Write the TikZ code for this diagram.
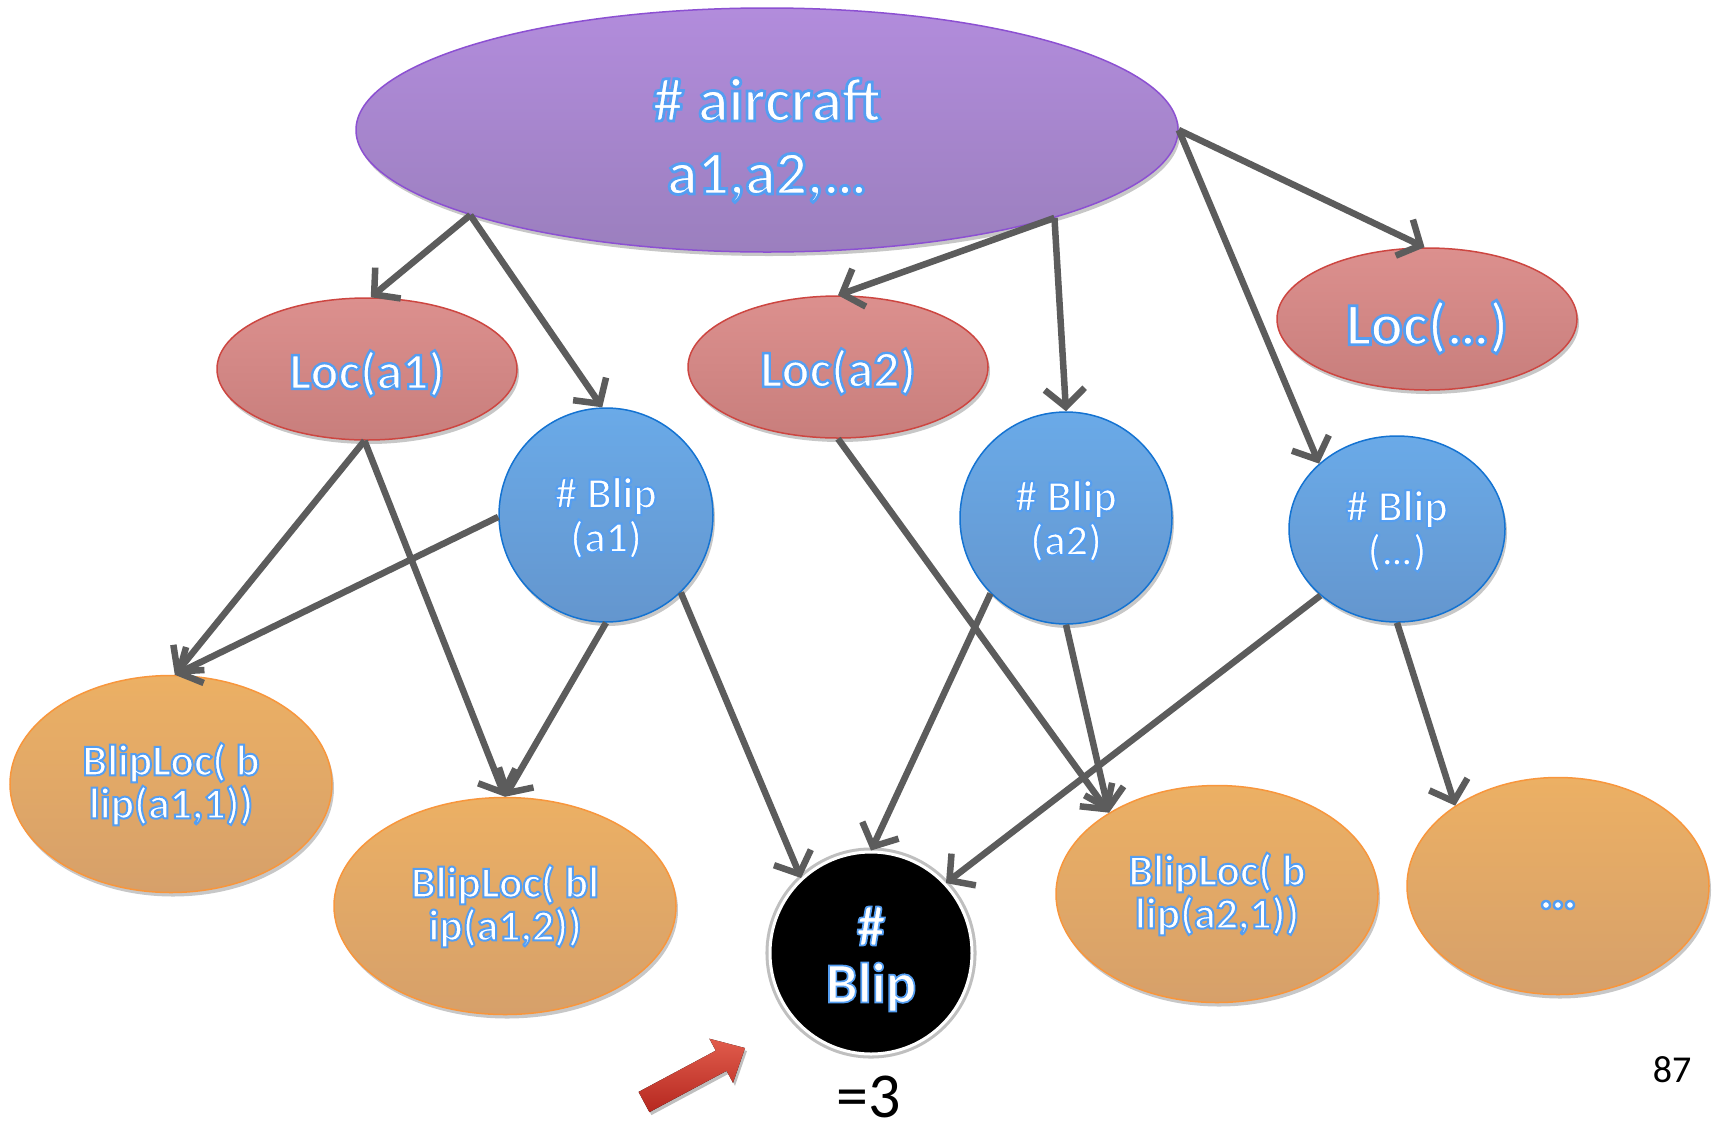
\documentclass[tikz,border=0pt]{standalone}
\usepackage{fontspec}
\setmainfont{Carlito}
\newfontfamily\gf[FakeBold=4.5]{Carlito Bold}
\newfontfamily\gfb[FakeBold=3]{Carlito Bold}
\usetikzlibrary{shapes.geometric,arrows.meta,shadows}

\definecolor{airtop}{RGB}{178,140,220}
\definecolor{airbot}{RGB}{155,127,190}
\definecolor{airborder}{RGB}{140,80,210}
\definecolor{loctop}{RGB}{220,144,142}
\definecolor{locbot}{RGB}{200,126,124}
\definecolor{locborder}{RGB}{205,70,65}
\definecolor{bluetop}{RGB}{106,170,232}
\definecolor{bluebot}{RGB}{100,150,206}
\definecolor{blueborder}{RGB}{20,115,210}
\definecolor{orgtop}{RGB}{236,176,100}
\definecolor{orgbot}{RGB}{214,160,106}
\definecolor{orgborder}{RGB}{248,150,60}
\definecolor{edgegray}{RGB}{92,92,92}

% white fill, blue stroke (text rendering mode 2 comes from FakeBold)
\newcommand\gl[1]{\special{pdf:bc [1 1 1] [0.33 0.62 0.95]}#1\special{pdf:ec}}

\tikzset{
  every node/.style={inner sep=0pt},
  shd/.style={drop shadow={shadow xshift=2pt, shadow yshift=-4pt, opacity=0.22, fill=black}},
  airst/.style={ellipse, shd, minimum width=822, minimum height=244, draw=airborder,
    line width=1.5pt, top color=airtop, bottom color=airbot},
  locst/.style={ellipse, shd, minimum width=300, minimum height=142, draw=locborder,
    line width=1.5pt, top color=loctop, bottom color=locbot},
  bluest/.style={ellipse, shd, draw=blueborder, line width=1.5pt,
    top color=bluetop, bottom color=bluebot},
  orgst/.style={ellipse, shd, draw=orgborder, line width=1.5pt, minimum height=217,
    top color=orgtop, bottom color=orgbot},
  blackst/.style={circle, minimum size=202, fill=black, draw=white, line width=3pt,
    drop shadow={shadow xshift=0pt, shadow yshift=0pt, shadow scale=1.045, opacity=0.5, fill=gray}},
  gtext/.style={text=white, align=center},
  edge/.style={draw=edgegray, line width=6.5pt, -{Straight Barb[length=18pt,width=40pt]}},
  plain/.style={text=black}
}

\begin{document}
\begin{tikzpicture}[x=1pt, y=-1pt]
\fill[white] (0,0) rectangle (1718,1128);
\useasboundingbox (0,0) rectangle (1718,1128);

% shapes
\node[airst] (air) at (767,130) {};
\node[locst] (loc1) at (367,369) {};
\node[locst] (loc2) at (838,367) {};
\node[locst] (locd) at (1427,319) {};
\node[bluest, minimum width=214, minimum height=214] (b1) at (606,515) {};
\node[bluest, minimum width=212, minimum height=212] (b2) at (1066,518) {};
\node[bluest, minimum width=216, minimum height=186] (bd) at (1397,529) {};
\node[orgst, minimum width=322] (bl11) at (171,784) {};
\node[orgst, minimum width=342] (bl12) at (505,906) {};
\node[orgst, minimum width=322] (bl21) at (1217,894) {};
\node[orgst, minimum width=302] (bld) at (1558,886) {};
\node[blackst] (blip) at (871,953) {};

% texts
\node[gtext, font=\gf\fontsize{62}{73}\selectfont, yshift=-10pt] (airT) at (air) {\gl{\# aircraft}\\\gl{a1,a2,…}};
\node[gtext, font=\gf\fontsize{52}{60}\selectfont, yshift=-4.5pt] (loc1T) at (loc1) {\gl{Loc(a1)}};
\node[gtext, font=\gf\fontsize{52}{60}\selectfont, yshift=-4.5pt] (loc2T) at (loc2) {\gl{Loc(a2)}};
\node[gtext, font=\gf\fontsize{60}{68}\selectfont, yshift=-8pt] (locdT) at (locd) {\gl{Loc(…)}};
\node[gtext, font=\gf\fontsize{44}{44}\selectfont, yshift=-3pt] (b1T) at (b1) {\gl{\# Blip}\\\gl{(a1)}};
\node[gtext, font=\gf\fontsize{44}{44}\selectfont, yshift=-3pt] (b2T) at (b2) {\gl{\# Blip}\\\gl{(a2)}};
\node[gtext, font=\gf\fontsize{44}{44}\selectfont, yshift=-2pt] (bdT) at (bd) {\gl{\# Blip}\\\gl{(…)}};
\node[gtext, font=\gf\fontsize{44}{43}\selectfont] (bl11T) at (bl11) {\gl{BlipLoc( b}\\\gl{lip(a1,1))}};
\node[gtext, font=\gf\fontsize{44}{43}\selectfont] (bl12T) at (bl12) {\gl{BlipLoc( bl}\\\gl{ip(a1,2))}};
\node[gtext, font=\gf\fontsize{44}{43}\selectfont] (bl21T) at (bl21) {\gl{BlipLoc( b}\\\gl{lip(a2,1))}};
\node[gtext, font=\gf\fontsize{54}{60}\selectfont, yshift=-19pt] (bldT) at (bld) {\gl{…}};
\node[gtext, font=\gfb\fontsize{57}{57}\selectfont, yshift=-6pt] (blipT) at (blip) {\gl{\#}\\\gl{Blip}};

\node[plain, font=\fontsize{64}{70}\selectfont] (eq) at (869,1097) {=3};
\node[plain, font=\fontsize{38}{44}\selectfont] (pg) at (1672,1070) {87};

% red pointer arrow
\fill[top color={rgb,255:red,224;green,92;blue,76}, bottom color={rgb,255:red,182;green,40;blue,32},
  drop shadow={shadow xshift=2pt, shadow yshift=-3pt, opacity=0.25, fill=black}]
  (649.4,1112.1) -- (726.6,1070.8) -- (733.0,1082.8) -- (745,1048)
  -- (709.4,1038.7) -- (715.8,1050.6) -- (638.6,1091.9) -- cycle;

% edges
\draw[edge] (air.196.5) -- (loc1.87);
\draw[edge] (air.196.5) -- (b1.92);
\draw[edge] (air.343.7) -- (loc2.90);
\draw[edge] (air.343.7) -- (b2.90);
\draw[edge] (air.0) -- (locd.92);
\draw[edge] (air.0) -- (bd.140);
\draw[edge] (loc1.268) -- (bl11.88);
\draw[edge] (loc1.268) -- (bl12.90);
\draw[edge] (b1.181) -- (bl11.88);
\draw[edge] (b1.270) -- (bl12.90);
\draw[edge] (b1.314.5) -- (blip.133);
\draw[edge] (loc2.270) -- (bl21.143);
\draw[edge] (b2.225) -- (blip.90);
\draw[edge] (b2.270) -- (bl21.143);
\draw[edge] (bd.221.6) -- (blip.43.6);
\draw[edge] (bd.270) -- (bld.142.7);
\end{tikzpicture}
\end{document}
